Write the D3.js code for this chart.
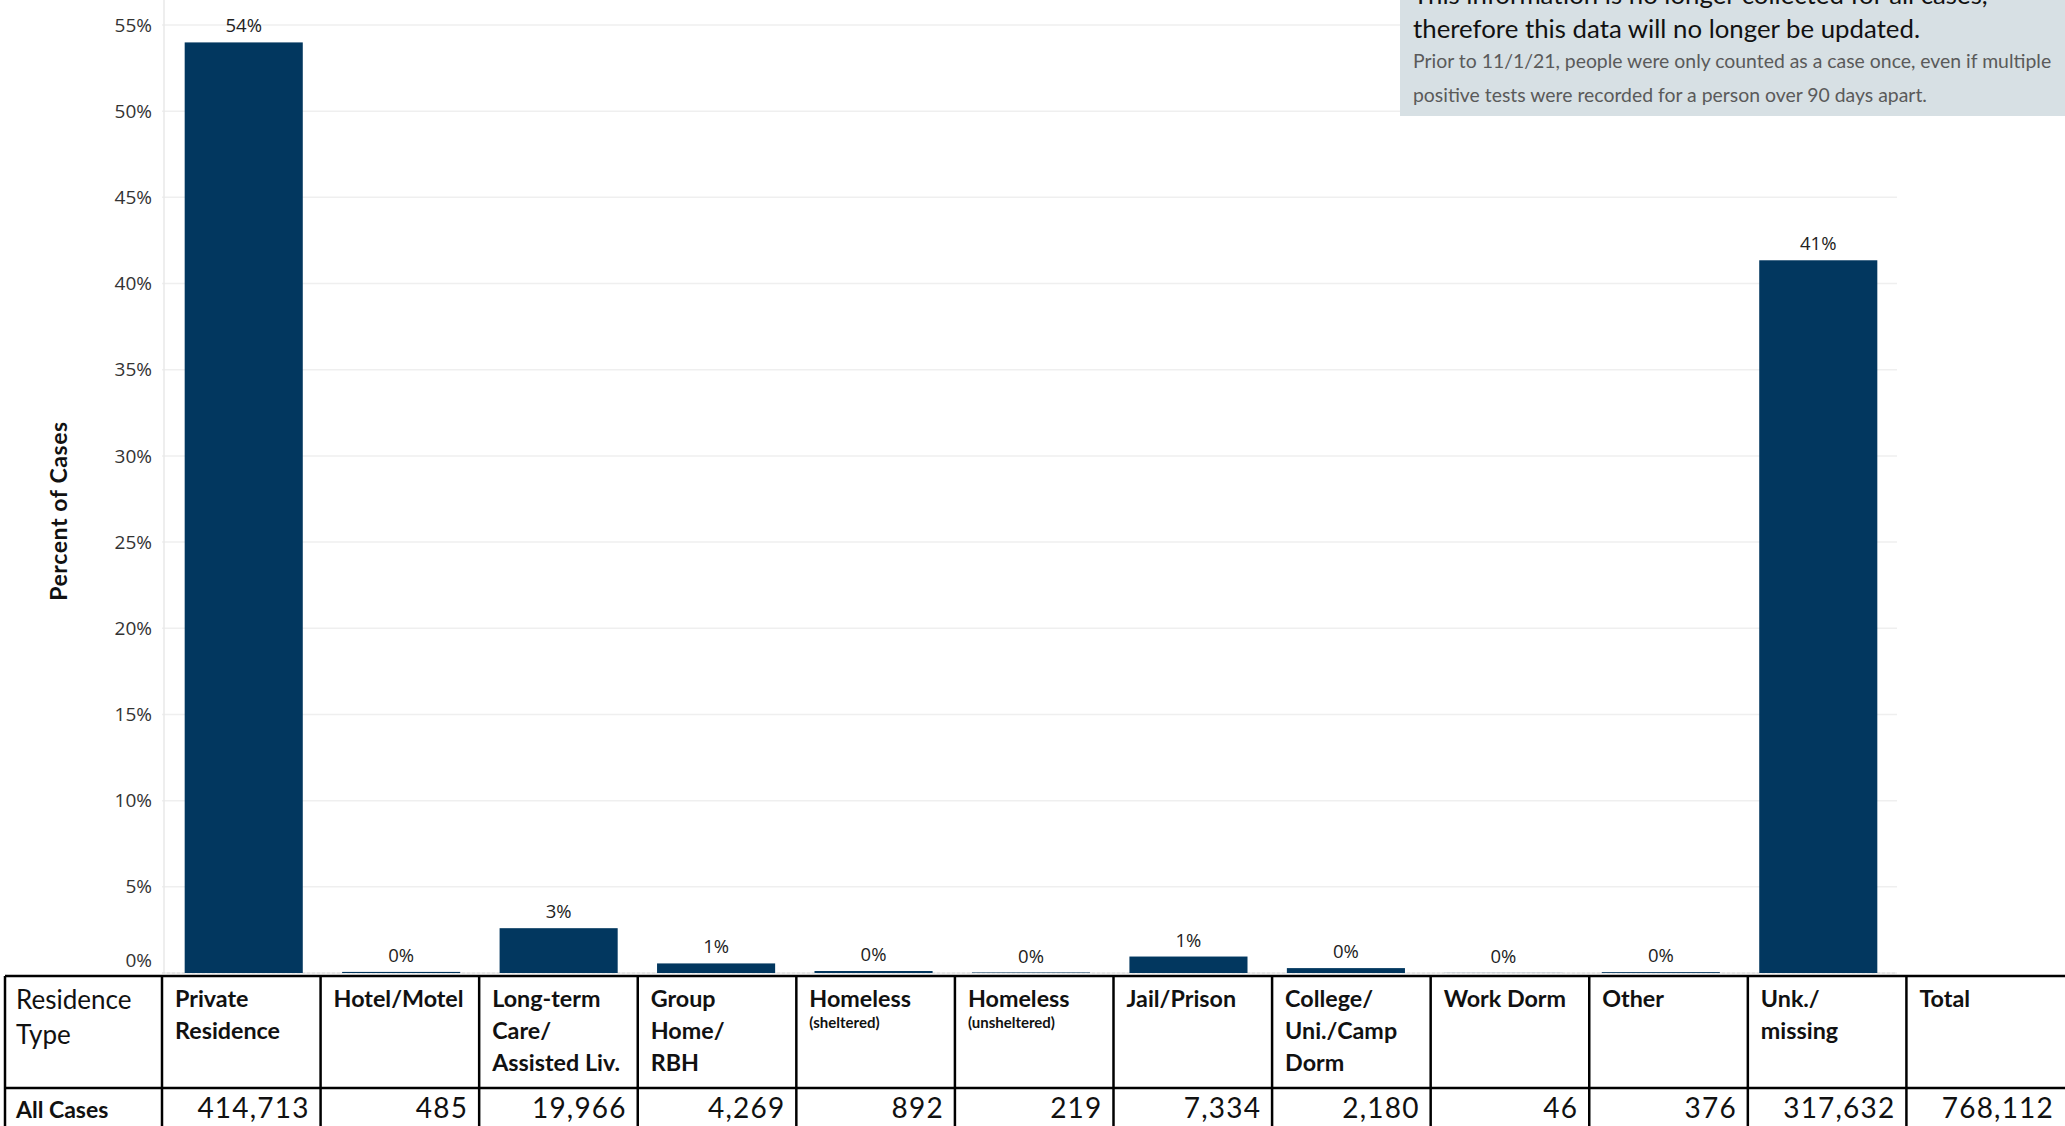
<!DOCTYPE html>
<html>
<head>
<meta charset="utf-8">
<script src="https://cdn.jsdelivr.net/npm/d3@7"></script>
<style>
  body { margin: 0; background: #fff; overflow: hidden; }
  svg { display: block; }
</style>
</head>
<body>
<svg id="chart" width="2065" height="1126"></svg>
<script>
// residence categories, in table order
const categories = ["Private Residence", "Hotel/Motel", "Long-term Care/Assisted Liv.", "Group Home/RBH",
  "Homeless (sheltered)", "Homeless (unsheltered)", "Jail/Prison", "College/Uni./Camp Dorm",
  "Work Dorm", "Other", "Unk./missing"];
// percent of cases (bar heights)
const percents = [53.99, 0.063, 2.60, 0.556, 0.116, 0.029, 0.955, 0.284, 0.006, 0.049, 41.35];
const percentLabels = ["54%", "0%", "3%", "1%", "0%", "0%", "1%", "0%", "0%", "0%", "41%"];
// table
const headerLines = [["Private", "Residence"], ["Hotel/Motel"], ["Long-term", "Care/", "Assisted Liv."],
  ["Group", "Home/", "RBH"], ["Homeless"], ["Homeless"], ["Jail/Prison"], ["College/", "Uni./Camp", "Dorm"],
  ["Work Dorm"], ["Other"], ["Unk./", "missing"], ["Total"]];
const headerSub = ["", "", "", "", "(sheltered)", "(unsheltered)", "", "", "", "", "", ""];
const counts = ["414,713", "485", "19,966", "4,269", "892", "219", "7,334", "2,180", "46", "376", "317,632", "768,112"];
const yTicks = [0, 5, 10, 15, 20, 25, 30, 35, 40, 45, 50, 55];

const svg = d3.select("#chart");
const tickFont = "'Open Sans', 'Noto Sans', sans-serif";
const tableFont = "Lato, 'Noto Sans', sans-serif";
const barColor = "#02375f";

const plotLeft = 162, plotRight = 1897, baseY = 973;
const cols = d3.scaleBand().domain(headerLines.map((d, i) => i)).range([162, 2065]);
const x = d3.scaleBand().domain(categories)
  .range([165, plotRight])
  .paddingInner(0.25).paddingOuter(0.125);
const y = d3.scaleLinear().domain([0, 55]).range([baseY, 25]);

// gridlines
svg.append("g").selectAll("line").data(yTicks).join("line")
  .attr("x1", plotLeft).attr("x2", plotRight)
  .attr("y1", d => y(d)).attr("y2", d => y(d))
  .attr("stroke", "#efefef").attr("stroke-width", 1.5);
svg.append("line").attr("x1", 164).attr("x2", 164).attr("y1", 0).attr("y2", baseY)
  .attr("stroke", "#e9e9e9").attr("stroke-width", 1.5);
svg.append("line").attr("x1", plotLeft).attr("x2", plotRight).attr("y1", baseY).attr("y2", baseY)
  .attr("stroke", "#dcdcdc").attr("stroke-dasharray", "3,2");

// y axis
const yAxis = svg.append("g").attr("transform", "translate(160,0)")
  .call(d3.axisLeft(y).tickValues(yTicks).tickFormat(d => d + "%").tickSize(0).tickPadding(8));
yAxis.select(".domain").remove();
yAxis.selectAll("text").attr("font-family", tickFont).attr("font-size", 19).attr("fill", "#333")
  .attr("dy", d => d === 0 ? "-0.35em" : "0.32em");

svg.append("text")
  .attr("transform", `translate(67,511) rotate(-90)`)
  .attr("text-anchor", "middle")
  .attr("font-family", tableFont).attr("font-weight", "bold").attr("font-size", 23)
  .attr("letter-spacing", 0.6)
  .attr("fill", "#111").text("Percent of Cases");

// bars
svg.append("g").selectAll("rect").data(categories).join("rect")
  .attr("x", d => x(d)).attr("width", x.bandwidth())
  .attr("y", (d, i) => y(percents[i]))
  .attr("height", (d, i) => baseY - y(percents[i]))
  .attr("fill", barColor);
svg.append("g").selectAll("text").data(categories).join("text")
  .attr("x", d => x(d) + x.bandwidth() / 2)
  .attr("y", (d, i) => y(percents[i]) - 10)
  .attr("text-anchor", "middle")
  .attr("font-family", tickFont).attr("font-size", 18.5).attr("fill", "#222")
  .text((d, i) => percentLabels[i]);

// annotation box
const note = svg.append("g");
note.append("rect").attr("x", 1400).attr("y", 0).attr("width", 665).attr("height", 116).attr("fill", "#d7e0e4");
note.append("text").attr("x", 1413).attr("y", 4).attr("font-family", tableFont).attr("font-size", 25.8)
  .attr("fill", "#111").text("This information is no longer collected for all cases,");
note.append("text").attr("x", 1413).attr("y", 38).attr("font-family", tableFont).attr("font-size", 25.8)
  .attr("fill", "#111").text("therefore this data will no longer be updated.");
note.append("text").attr("x", 1413).attr("y", 68).attr("font-family", tableFont).attr("font-size", 19.4)
  .attr("fill", "#5a5a5a").text("Prior to 11/1/21, people were only counted as a case once, even if multiple");
note.append("text").attr("x", 1413).attr("y", 102).attr("font-family", tableFont).attr("font-size", 19.4)
  .attr("fill", "#5a5a5a").text("positive tests were recorded for a person over 90 days apart.");

// table
const tTop = 976, tMid = 1088, tBot = 1160;
const table = svg.append("g");
const colEdges = [5].concat(headerLines.map((d, i) => cols(i)));
table.selectAll("line.v").data(colEdges).join("line").attr("class", "v")
  .attr("x1", d => d).attr("x2", d => d).attr("y1", tTop).attr("y2", tBot)
  .attr("stroke", "#000").attr("stroke-width", 2.5);
table.selectAll("line.h").data([tTop, tMid]).join("line").attr("class", "h")
  .attr("x1", 5).attr("x2", 2065).attr("y1", d => d).attr("y2", d => d)
  .attr("stroke", "#000").attr("stroke-width", 2.5);

table.append("text").attr("x", 16).attr("y", 1009).attr("font-family", tableFont).attr("font-size", 26)
  .attr("fill", "#111")
  .selectAll("tspan").data(["Residence", "Type"]).join("tspan")
  .attr("x", 16).attr("dy", (d, i) => i ? 35 : 0).text(d => d);

const heads = table.selectAll("g.head").data(headerLines).join("g").attr("class", "head")
  .attr("transform", (d, i) => `translate(${cols(i) + 13},0)`);
heads.append("text").attr("y", 1007).attr("font-family", tableFont).attr("font-weight", "bold")
  .attr("font-size", 23.3).attr("fill", "#111")
  .selectAll("tspan").data(d => d).join("tspan")
  .attr("x", 0).attr("dy", (d, i) => i ? 32 : 0).text(d => d);
heads.append("text").attr("y", 1028).attr("font-family", tableFont).attr("font-weight", "bold")
  .attr("font-size", 15).attr("fill", "#111").text((d, i) => headerSub[i]);

table.append("text").attr("x", 16).attr("y", 1118).attr("font-family", tableFont).attr("font-weight", "bold")
  .attr("font-size", 23).attr("fill", "#111").text("All Cases");
table.selectAll("text.num").data(counts).join("text").attr("class", "num")
  .attr("x", (d, i) => cols(i) + cols.bandwidth() - 11).attr("y", 1118)
  .attr("text-anchor", "end").attr("font-family", tableFont).attr("font-size", 28)
  .attr("letter-spacing", 1.2)
  .attr("fill", "#111").text(d => d);
</script>
</body>
</html>
